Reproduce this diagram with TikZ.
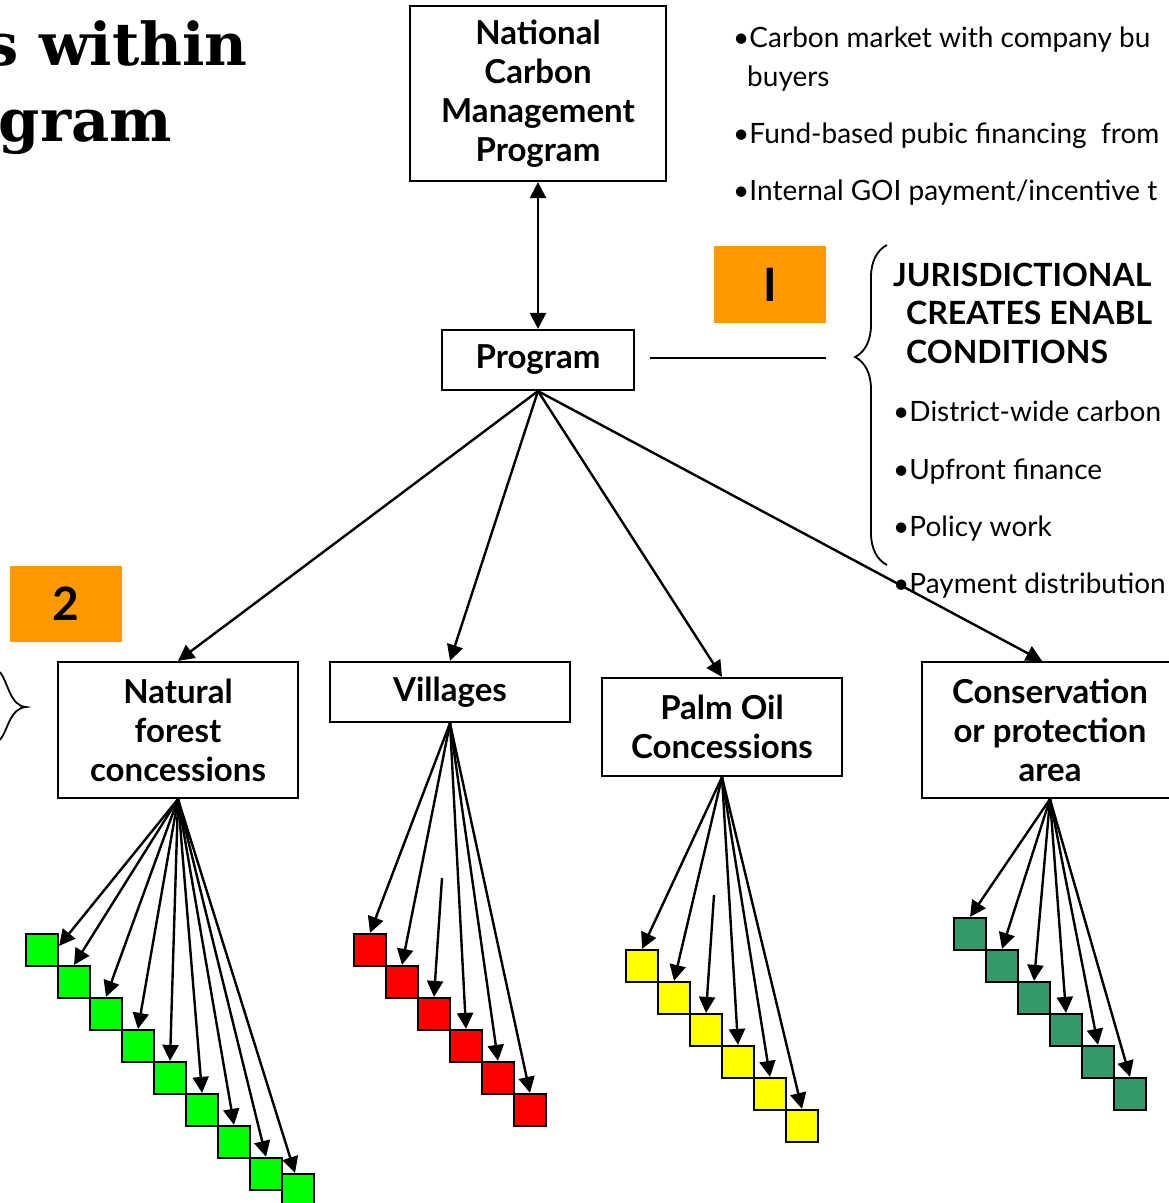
\documentclass[tikz,border=0pt]{standalone}
\usepackage{fontspec}
\setmainfont{Lato}
\newfontfamily\titlefont{DejaVu Serif}
\usetikzlibrary{arrows.meta,decorations.pathreplacing,calc}
\definecolor{orangebox}{HTML}{FF9900}
\definecolor{sqgreen}{HTML}{00FF00}
\definecolor{sqred}{HTML}{FF0000}
\definecolor{sqyellow}{HTML}{FFFF00}
\definecolor{sqsea}{HTML}{339966}
\begin{document}
\begin{tikzpicture}[x=1pt,y=-1pt,
  >={Triangle[length=16pt,width=16pt]},
  box/.style={draw, line width=2.2pt, align=center, inner sep=0pt,
    font=\fontsize{33}{39}\selectfont\bfseries},
  numbox/.style={fill=orangebox, inner sep=0pt, minimum width=112pt, minimum height=77pt,
    font=\fontsize{46}{46}\selectfont\bfseries},
  sq/.style={draw, line width=2.2pt, minimum size=32pt, inner sep=0pt},
  arr/.style={line width=2.4pt, ->},
  dblarr/.style={line width=2.4pt, <->},
  txt/.style={anchor=base west, inner sep=0pt, font=\fontsize{28}{28}\selectfont},
  hdr/.style={anchor=base west, inner sep=0pt, font=\fontsize{32}{32}\selectfont\bfseries},
  ttl/.style={anchor=base east, inner sep=0pt, font=\fontsize{59}{59}\titlefont\bfseries},
  bracepath/.style={line width=1.8pt, decorate, decoration={brace, amplitude=32pt, aspect=0.65}}
]
\fill[white] (0,0) rectangle (1169,1203);
\useasboundingbox (0,0) rectangle (1169,1203);

% title
\node[ttl] (t1) at (248,65) {s within};
\node[ttl] (t2) at (172,141) {ogram};

% top right text
\node[txt] (a1) at (733,47) {•Carbon market with company bu};
\node[txt] (a2) at (747,86) {buyers};
\node[txt] (a3) at (733,143) {•Fund-based pubic financing\ \ from};
\node[txt] (a4) at (733,200) {•Internal GOI payment/incentive t};

% jurisdictional text
\node[hdr] (h1) at (893,286) {JURISDICTIONAL};
\node[hdr] (h2) at (906,324) {CREATES ENABL};
\node[hdr] (h3) at (906,363) {CONDITIONS};
\node[txt] (b1) at (893,421) {•District-wide carbon};
\node[txt] (b2) at (893,479) {•Upfront finance};
\node[txt] (b3) at (893,536) {•Policy work};
\node[txt] (b4) at (893,593) {•Payment distribution};

% boxes
\node[box, minimum width=256pt, minimum height=175pt] (nat) at (538,93.5)
  {National\\Carbon\\Management\\Program};
\node[box, minimum width=192pt, minimum height=60pt] (prog) at (538,360) {Program};
\node[box, minimum width=240pt, minimum height=136pt] (forest) at (178,730)
  {Natural\\forest\\concessions};
\node[box, minimum width=240pt, minimum height=60pt] (vill) at (450,692) {Villages};
\node[box, minimum width=240pt, minimum height=98pt] (palm) at (722,727)
  {Palm Oil\\Concessions};
\node[box, minimum width=256pt, minimum height=136pt] (cons) at (1050,730)
  {Conservation\\or protection\\area};

% number boxes
\node[numbox] (one) at (770,284.5) {I};
\node[numbox, minimum height=76pt] (two) at (66,604) {2};

% braces
\coordinate (brb) at (887,565);
\coordinate (brt) at (887,245);
\draw[bracepath] (brb) -- (brt);
\coordinate (lbt) at (0,672);
\coordinate (lbtip) at (26,707);
\coordinate (lbb) at (0,740);
\draw[line width=1.8pt] (lbt) .. controls (8,682) and (10,706) .. (lbtip)
  .. controls (10,708) and (8,730) .. (lbb);

% connector line
\coordinate (l1) at (650,358);
\coordinate (l2) at (826,358);
\draw[line width=1.6pt] (l1) -- (l2);

% main arrows
\draw[dblarr] (nat.south) -- (prog.north);
\draw[arr] (prog.south) -- (forest.north);
\draw[arr] (prog.south) -- (vill.north);
\draw[arr] (prog.south) -- (palm.north);
\draw[arr] (prog.south) -- ($(cons.north)+(-8,0)$);

% green squares
\foreach \i in {1,...,8} {
  \node[sq, fill=sqgreen] (g\i) at ({42+32*(\i-1)},{950+32*(\i-1)}) {};
}
\node[sq, fill=sqgreen] (g9) at (298,1190) {};
\draw[arr] (forest.south) -- ($(g1.north east)+(0,13)$);
\foreach \i in {2,...,8} {
  \draw[arr] (forest.south) -- (g\i.north);
}
\draw[arr] (forest.south) -- ($(g9.north)+(-3,0)$);

% red squares
\foreach \i in {1,...,6} {
  \node[sq, fill=sqred] (r\i) at ({370+32*(\i-1)},{950+32*(\i-1)}) {};
}
\coordinate (rs) at (442,878);
\foreach \i in {1,2,4,5,6} {
  \draw[arr] (vill.south) -- (r\i.north);
}
\draw[arr] (rs) -- (r3.north);

% yellow squares
\foreach \i in {1,...,6} {
  \node[sq, fill=sqyellow] (y\i) at ({642+32*(\i-1)},{966+32*(\i-1)}) {};
}
\coordinate (ys) at (714,895);
\foreach \i in {1,2,4,5,6} {
  \draw[arr] (palm.south) -- (y\i.north);
}
\draw[arr] (ys) -- (y3.north);

% sea green squares
\foreach \i in {1,...,6} {
  \node[sq, fill=sqsea] (c\i) at ({970+32*(\i-1)},{934+32*(\i-1)}) {};
}
\foreach \i in {1,...,6} {
  \draw[arr] (cons.south) -- (c\i.north);
}
\end{tikzpicture}
\end{document}
